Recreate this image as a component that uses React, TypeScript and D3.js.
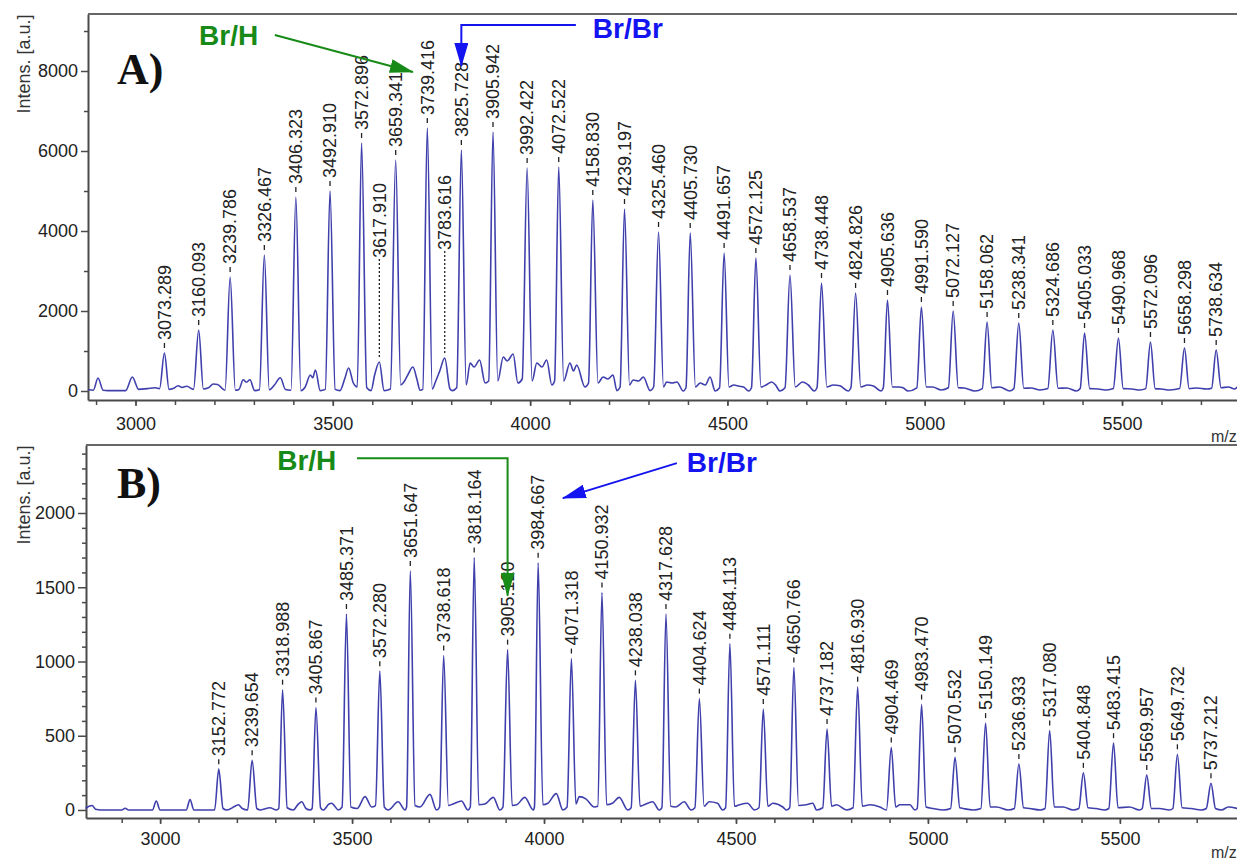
import { useEffect, useRef } from 'react'
import * as d3 from 'd3'

const FONT = "'Liberation Sans', Arial, sans-serif"

const X_TICKS = [3000, 3500, 4000, 4500, 5000, 5500]
const Y_TICKS_A = [0, 2000, 4000, 6000, 8000]
const Y_TICKS_B = [0, 500, 1000, 1500, 2000]

// labelled peaks: [m/z label, intensity]
const PEAKS_A: [string, number][] = [
  ['3073.289', 950], ['3160.093', 1525], ['3239.786', 2850], ['3326.467', 3400],
  ['3406.323', 4850], ['3492.910', 5000], ['3572.896', 6200], ['3617.910', 725],
  ['3659.341', 5775], ['3739.416', 6575], ['3783.616', 825], ['3825.728', 6025],
  ['3905.942', 6475], ['3992.422', 5575], ['4072.522', 5600], ['4158.830', 4775],
  ['4239.197', 4550], ['4325.460', 3975], ['4405.730', 3950], ['4491.657', 3450],
  ['4572.125', 3325], ['4658.537', 2900], ['4738.448', 2700], ['4824.826', 2450],
  ['4905.636', 2275], ['4991.590', 2100], ['5072.127', 2000], ['5158.062', 1725],
  ['5238.341', 1700], ['5324.686', 1525], ['5405.033', 1450], ['5490.968', 1325],
  ['5572.096', 1225], ['5658.298', 1075], ['5738.634', 1025],
]

// labels lifted above their (small) peak, intensity level of the label foot
const RAISED_A: Record<string, number> = { '3617.910': 3325, '3783.616': 3525 }

// trace between the labelled peaks: [m/z, intensity]
const BASE_A: [number, number][] = [
  [2880, 30], [2893, 20], [2905, 325], [2918, 20], [2930, 10], [2975, 10], [2992, 350], [3008, 40],
  [3030, 60], [3050, 80], [3061, 60],
  [3085, 40], [3095, 60], [3108, 130], [3118, 90], [3130, 120], [3147, 40],
  [3172, 50], [3185, 80], [3197, 175], [3208, 160], [3227, 20],
  [3253, 20], [3262, 40], [3273, 280], [3281, 220], [3290, 280], [3302, 10], [3314, 30],
  [3339, 30], [3352, 150], [3367, 330], [3380, 40], [3394, 20],
  [3419, 10], [3430, 100], [3443, 400], [3449, 330], [3456, 525], [3468, 10], [3481, 40],
  [3506, 40], [3518, 10], [3530, 300], [3540, 575], [3552, 200], [3562, 100],
  [3586, 80], [3597, 10], [3606, 400],
  [3630, 10], [3646, 50],
  [3672, 150], [3680, 225], [3690, 400], [3703, 600], [3713, 300], [3721, 20], [3728, 40],
  [3752, 50], [3760, 225], [3771, 500],
  [3797, 50], [3803, 10], [3814, 80],
  [3838, 150], [3848, 700], [3858, 600], [3872, 775], [3886, 200], [3895, 250],
  [3918, 250], [3932, 850], [3942, 750], [3957, 925], [3969, 200], [3980, 300],
  [4005, 250], [4017, 700], [4030, 600], [4042, 775], [4055, 150], [4062, 250],
  [4085, 250], [4101, 700], [4110, 500], [4118, 650], [4139, 100], [4148, 200],
  [4172, 200], [4185, 350], [4197, 300], [4210, 400], [4220, 10], [4228, 100],
  [4252, 150], [4261, 275], [4275, 250], [4287, 350], [4304, 10], [4313, 100],
  [4338, 100], [4346, 225], [4360, 200], [4372, 225], [4388, 0], [4395, 80],
  [4419, 100], [4431, 200], [4444, 150], [4456, 350], [4469, 0], [4480, 80],
  [4504, 100], [4516, 150], [4530, 120], [4541, 100], [4554, 0], [4561, 80],
  [4585, 100], [4598, 150], [4612, 225], [4622, 150], [4633, 0], [4646, 80],
  [4672, 100], [4690, 225], [4705, 150], [4720, 0], [4727, 80],
  [4752, 100], [4768, 150], [4785, 130], [4806, 0], [4813, 80],
  [4838, 100], [4855, 150], [4870, 125], [4889, 0], [4895, 80],
  [4918, 100], [4935, 100], [4945, 80], [4958, 0], [4980, 80],
  [5004, 100], [5020, 100], [5042, 25], [5060, 80],
  [5085, 80], [5100, 75], [5127, 0], [5146, 60],
  [5170, 80], [5190, 100], [5216, 0], [5226, 60],
  [5251, 70], [5270, 75], [5292, 25], [5312, 60],
  [5338, 70], [5360, 75], [5385, 0], [5394, 60],
  [5418, 60], [5440, 50], [5461, 25], [5478, 60],
  [5503, 60], [5525, 50], [5545, 25], [5560, 60],
  [5584, 60], [5600, 50], [5621, 25], [5646, 60],
  [5670, 60], [5690, 75], [5714, 50], [5727, 70],
  [5751, 80], [5770, 100], [5785, 50], [5792, 100],
]

const PEAKS_B: [string, number][] = [
  ['3152.772', 275], ['3239.654', 335], ['3318.988', 810], ['3405.867', 690],
  ['3485.371', 1320], ['3572.280', 935], ['3651.647', 1610], ['3738.618', 1040],
  ['3818.164', 1700], ['3905.120', 1080], ['3984.667', 1665], ['4071.318', 1020],
  ['4150.932', 1465], ['4238.038', 873], ['4317.628', 1320], ['4404.624', 750],
  ['4484.113', 1120], ['4571.111', 680], ['4650.766', 960], ['4737.182', 545],
  ['4816.930', 830], ['4904.469', 420], ['4983.470', 710], ['5070.532', 355],
  ['5150.149', 585], ['5236.933', 310], ['5317.080', 535], ['5404.848', 250],
  ['5483.415', 450], ['5569.957', 235], ['5649.732', 375], ['5737.212', 180],
]

const BASE_B: [number, number][] = [
  [2806, 10], [2815, 25], [2823, 30], [2832, 5], [2845, 0], [2900, 0], [2909, 12], [2918, 0],
  [2980, 0], [2990, 60], [3000, 0], [3068, 0], [3078, 70], [3088, 0], [3142, 0],
  [3164, 10], [3174, 0], [3195, 25], [3204, 35], [3214, 10], [3228, 0],
  [3252, 10], [3262, 0], [3286, 15], [3303, 0], [3309, 10],
  [3331, 15], [3347, 0], [3360, 40], [3369, 55], [3380, 10], [3391, 0], [3396, 10],
  [3418, 15], [3425, 0], [3440, 40], [3447, 45], [3455, 25], [3464, 0], [3474, 20],
  [3497, 20], [3513, 10], [3534, 90], [3551, 20], [3561, 30],
  [3584, 20], [3594, 0], [3620, 55], [3638, 0], [3642, 20],
  [3664, 30], [3677, 20], [3703, 105], [3720, 0], [3728, 20],
  [3751, 30], [3763, 40], [3785, 60], [3802, 0], [3808, 20],
  [3830, 35], [3846, 40], [3868, 85], [3885, 0], [3893, 20],
  [3917, 30], [3929, 35], [3950, 85], [3972, 0], [3975, 20],
  [3997, 35], [4010, 45], [4032, 110], [4049, 0], [4060, 20],
  [4083, 40], [4092, 90], [4109, 75], [4131, 20], [4140, 25],
  [4163, 35], [4178, 45], [4196, 85], [4218, 0], [4227, 15],
  [4250, 25], [4261, 35], [4283, 55], [4300, 0], [4307, 15],
  [4330, 25], [4343, 20], [4365, 55], [4383, 0], [4393, 15],
  [4417, 25], [4430, 55], [4452, 45], [4465, 0], [4473, 15],
  [4496, 25], [4509, 35], [4530, 45], [4548, 0], [4560, 15],
  [4583, 25], [4596, 45], [4622, 20], [4631, 0], [4640, 15],
  [4663, 30], [4683, 35], [4700, 45], [4710, 0], [4726, 15],
  [4749, 25], [4762, 35], [4788, 0], [4805, 15],
  [4829, 25], [4849, 35], [4875, 20], [4892, 0],
  [4916, 20], [4927, 35], [4953, 35], [4966, 0], [4972, 10],
  [4995, 20], [5014, 10], [5040, 0], [5059, 10],
  [5083, 15], [5092, 10], [5118, 0], [5138, 10],
  [5162, 20], [5179, 20], [5209, 0], [5225, 10],
  [5249, 15], [5265, 10], [5292, 0], [5305, 10],
  [5329, 20], [5352, 20], [5378, 0], [5393, 10],
  [5417, 15], [5438, 10], [5460, 0], [5471, 10],
  [5495, 15], [5525, 20], [5551, 0], [5558, 10],
  [5582, 10], [5603, 10], [5629, 0], [5638, 10],
  [5662, 15], [5686, 10], [5712, 0], [5725, 10],
  [5749, 10], [5765, 0], [5782, 20], [5806, 10],
]

const GREEN = '#178a17'
const BLUE = '#1414f0'
const TRACE = '#4040ad'
const AXIS = '#4a4a4a'

const PANELS = [
  {
    id: 'A',
    peaks: PEAKS_A,
    base: BASE_A,
    raised: RAISED_A,
    xDomain: [2879.6, 5791.4],
    xRange: [88, 1237],
    yDomain: [-225, 9425],
    yRange: [400, 14],
    yTicks: Y_TICKS_A,
    yMinor: d3.range(1000, 9001, 2000),
    xMinor: d3.range(2900, 5800, 100),
    xPad: 11,
    yTick: 7,
    titleY: 64,
    tagY: 84,
    mzY: 442,
    greenArrow: [[3353, 8900], [3703, 7975]],
    blueArrow: [[4116, 9150], [3825.728, 9150], [3825.728, 8125]],
    greenText: [3161, 8650],
    blueText: [4159, 8825],
  },
  {
    id: 'B',
    peaks: PEAKS_B,
    base: BASE_B,
    raised: {} as Record<string, number>,
    xDomain: [2807, 5805],
    xRange: [86, 1237],
    yDomain: [-54, 2458],
    yRange: [818, 445],
    yTicks: Y_TICKS_B,
    yMinor: d3.range(100, 2401, 100).filter((v) => v % 500 !== 0),
    xMinor: d3.range(2900, 5800, 100),
    xPad: 8,
    yTick: 8,
    titleY: 495,
    tagY: 498,
    mzY: 858,
    greenArrow: [[3513, 2369], [3905.12, 2369], [3905.12, 1443]],
    blueArrow: [[4346, 2336], [4049, 2100]],
    greenText: [3305, 2290],
    blueText: [4372, 2276],
  },
]

export default function App() {
  const svgRef = useRef<SVGSVGElement>(null)

  useEffect(() => {
    const svg = d3.select(svgRef.current)
    svg.selectAll('*').remove()

    const defs = svg.append('defs')
    ;[['head-green', GREEN], ['head-blue', BLUE]].forEach(([id, c]) => {
      defs
        .append('marker')
        .attr('id', id)
        .attr('markerUnits', 'userSpaceOnUse')
        .attr('markerWidth', 24)
        .attr('markerHeight', 14)
        .attr('refX', 23)
        .attr('refY', 7)
        .attr('orient', 'auto')
        .append('path')
        .attr('d', 'M0,0 L24,7 L0,14 Z')
        .attr('fill', c)
    })

    PANELS.forEach((p) => {
      const x = d3.scaleLinear().domain(p.xDomain).range(p.xRange)
      const y = d3.scaleLinear().domain(p.yDomain).range(p.yRange)
      const g = svg.append('g')

      // minor ticks
      g.append('g')
        .attr('transform', `translate(0,${p.yRange[0]})`)
        .call(d3.axisBottom(x).tickValues(p.xMinor).tickSize(5).tickFormat(() => ''))
        .call((a) => a.select('.domain').remove())
        .attr('color', AXIS)
        .selectAll('line')
        .attr('stroke-width', 1.5)
      g.append('g')
        .attr('transform', `translate(${p.xRange[0]},0)`)
        .call(d3.axisLeft(y).tickValues(p.yMinor).tickSize(4).tickFormat(() => ''))
        .call((a) => a.select('.domain').remove())
        .attr('color', AXIS)
        .selectAll('line')
        .attr('stroke-width', 1.5)

      // major axes
      const xa = g
        .append('g')
        .attr('transform', `translate(0,${p.yRange[0]})`)
        .call(d3.axisBottom(x).tickValues(X_TICKS).tickSize(6).tickSizeOuter(0).tickPadding(p.xPad).tickFormat(d3.format('d')))
        .attr('font-size', 18)
        .attr('font-family', FONT)
        .attr('color', AXIS)
      xa.selectAll('text').attr('fill', '#222')
      xa.selectAll('line').attr('stroke-width', 1.5)
      xa.select('.domain').attr('stroke-width', 2)

      const ya = g
        .append('g')
        .attr('transform', `translate(${p.xRange[0]},0)`)
        .call(d3.axisLeft(y).tickValues(p.yTicks).tickSize(p.yTick).tickSizeOuter(0).tickPadding(3).tickFormat(d3.format('d')))
        .attr('font-size', 18)
        .attr('font-family', FONT)
        .attr('color', AXIS)
      ya.selectAll('text').attr('fill', '#222')
      ya.selectAll('line').attr('stroke-width', 1.5)
      ya.select('.domain').attr('stroke-width', 2)

      // top frame
      g.append('line')
        .attr('x1', p.xRange[0])
        .attr('x2', p.xRange[1])
        .attr('y1', p.yRange[1])
        .attr('y2', p.yRange[1])
        .attr('stroke', '#666')
        .attr('stroke-width', 2)

      g.append('text')
        .attr('transform', `translate(24,${p.titleY}) rotate(-90)`)
        .attr('text-anchor', 'middle')
        .attr('dy', '0.35em')
        .attr('font-family', FONT)
        .attr('font-size', 18)
        .attr('fill', '#333')
        .text('Intens. [a.u.]')

      g.append('text')
        .attr('x', 1211)
        .attr('y', p.mzY)
        .attr('font-family', FONT)
        .attr('font-size', 16)
        .attr('fill', '#333')
        .text('m/z')

      g.append('text')
        .attr('x', 117)
        .attr('y', p.tagY)
        .attr('font-family', "'Liberation Serif', 'Times New Roman', serif")
        .attr('font-weight', 'bold')
        .attr('font-size', 44)
        .attr('fill', '#111')
        .text(p.id + ')')

      // spectrum trace
      const pts: [number, number][] = [...p.base, ...p.peaks.map(([l, h]) => [+l, h] as [number, number])].sort(
        (a, b) => a[0] - b[0],
      )
      const line = d3
        .line<[number, number]>()
        .x((d) => x(d[0]))
        .y((d) => y(d[1]))
        .curve(d3.curveMonotoneX)
      g.append('path')
        .datum(pts)
        .attr('fill', 'none')
        .attr('stroke', TRACE)
        .attr('stroke-width', 1.6)
        .attr('stroke-linejoin', 'round')
        .attr('d', line)

      // peak labels
      p.peaks.forEach(([label, h]) => {
        const px = x(+label)
        const py = y(h)
        const raised = p.raised[label]
        const foot = raised != null ? y(raised) : py - 13
        g.append('line')
          .attr('x1', px)
          .attr('x2', px)
          .attr('y1', py - 5)
          .attr('y2', raised != null ? foot - 1 : py - 10)
          .attr('stroke', '#222')
          .attr('stroke-width', 1.3)
          .attr('stroke-dasharray', raised != null ? '2,2' : null)
        g.append('text')
          .attr('transform', `translate(${px},${foot}) rotate(-90)`)
          .attr('dy', '0.35em')
          .attr('font-family', FONT)
          .attr('font-size', 18)
          .attr('fill', '#222')
          .text(label)
      })

      // annotations
      const arrow = d3
        .line<number[]>()
        .x((d) => x(d[0]))
        .y((d) => y(d[1]))
      g.append('path')
        .attr('d', arrow(p.greenArrow))
        .attr('fill', 'none')
        .attr('stroke', GREEN)
        .attr('stroke-width', 2)
        .attr('marker-end', 'url(#head-green)')
      g.append('path')
        .attr('d', arrow(p.blueArrow))
        .attr('fill', 'none')
        .attr('stroke', BLUE)
        .attr('stroke-width', 2)
        .attr('marker-end', 'url(#head-blue)')
      g.append('text')
        .attr('x', x(p.greenText[0]))
        .attr('y', y(p.greenText[1]))
        .attr('font-family', FONT)
        .attr('font-weight', 'bold')
        .attr('font-size', 28)
        .attr('fill', GREEN)
        .text('Br/H')
      g.append('text')
        .attr('x', x(p.blueText[0]))
        .attr('y', y(p.blueText[1]))
        .attr('font-family', FONT)
        .attr('font-weight', 'bold')
        .attr('font-size', 28)
        .attr('fill', BLUE)
        .text('Br/Br')
    })
  }, [])

  return (
    <svg
      ref={svgRef}
      width={1237}
      height={864}
      style={{ position: 'absolute', left: 0, top: 0, background: '#fff' }}
    />
  )
}
